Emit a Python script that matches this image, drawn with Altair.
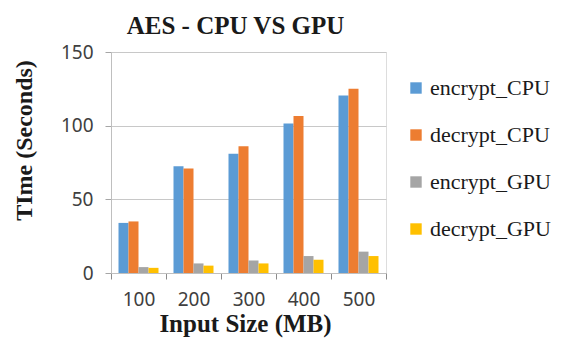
import altair as alt
import pandas as pd

sizes = ["100", "200", "300", "400", "500"]
series = ["encrypt_CPU", "decrypt_CPU", "encrypt_GPU", "decrypt_GPU"]
encrypt_cpu = [34, 72.5, 81, 101.5, 120.5]
decrypt_cpu = [35, 71, 86, 106.5, 125]
encrypt_gpu = [4, 6.5, 8.5, 11.5, 14.5]
decrypt_gpu = [3.5, 5, 6.5, 9, 11.5]
colors = ["#5B9BD5", "#ED7D31", "#A5A5A5", "#FFC000"]
y_ticks = [0, 50, 100, 150]

rows = []
for name, vals in zip(series, [encrypt_cpu, decrypt_cpu, encrypt_gpu, decrypt_gpu]):
    for s, v in zip(sizes, vals):
        rows.append({"size": s, "series": name, "time": v})
df = pd.DataFrame(rows)

serif = "Liberation Serif"
sans = "Noto Sans"

chart = alt.Chart(df).mark_bar().encode(
    x=alt.X("size:N", sort=sizes, title="Input Size (MB)",
            scale=alt.Scale(paddingInner=0, paddingOuter=0),
            axis=alt.Axis(labelAngle=0, tickBand="extent", tickSize=6, tickColor="#8c8c8c",
                          domainColor="#bfbfbf", labelFont=sans, labelFontSize=19,
                          labelColor="#404040", labelPadding=11,
                          titleFont=serif, titleFontSize=25, titleFontWeight="bold",
                          titleColor="#1a1a1a", titleX=134, titleY=58,
                          titleBaseline="alphabetic", grid=False)),
    xOffset=alt.XOffset("series:N", sort=series,
                        scale=alt.Scale(paddingInner=0, paddingOuter=0.75)),
    y=alt.Y("time:Q", title="TIme (Seconds)",
            scale=alt.Scale(domain=[0, 150], nice=False),
            axis=alt.Axis(values=y_ticks, tickSize=6, tickColor="#a6a6a6",
                          domainColor="#bfbfbf", gridColor="#c8c8c8",
                          labelFont=sans, labelFontSize=19, labelColor="#404040",
                          labelPadding=12,
                          titleFont=serif, titleFontSize=24, titleFontWeight="bold",
                          titleColor="#1a1a1a", titleX=-80, titleY=88,
                          titleBaseline="alphabetic", titleAngle=270)),
    color=alt.Color("series:N", sort=series,
                    scale=alt.Scale(domain=series, range=colors),
                    legend=alt.Legend(title=None, orient="none", legendX=294, legendY=25,
                                      symbolType="square", symbolSize=130,
                                      symbolStrokeWidth=0, symbolOpacity=1,
                                      labelFont=serif, labelFontSize=22,
                                      labelColor="#1a1a1a", rowPadding=25,
                                      labelOffset=3)),
).properties(
    width=275, height=221,
    title=alt.TitleParams("AES - CPU VS GPU", font=serif, fontSize=25,
                          fontWeight="bold", color="#1a1a1a", dx=-13),
    autosize=alt.AutoSizeParams(type="none"),
    padding={"left": 111, "top": 52, "right": 194, "bottom": 81},
).configure_view(stroke=None).configure(background="white")

chart.save("out.html", embed_options={"renderer": "svg", "actions": False})
